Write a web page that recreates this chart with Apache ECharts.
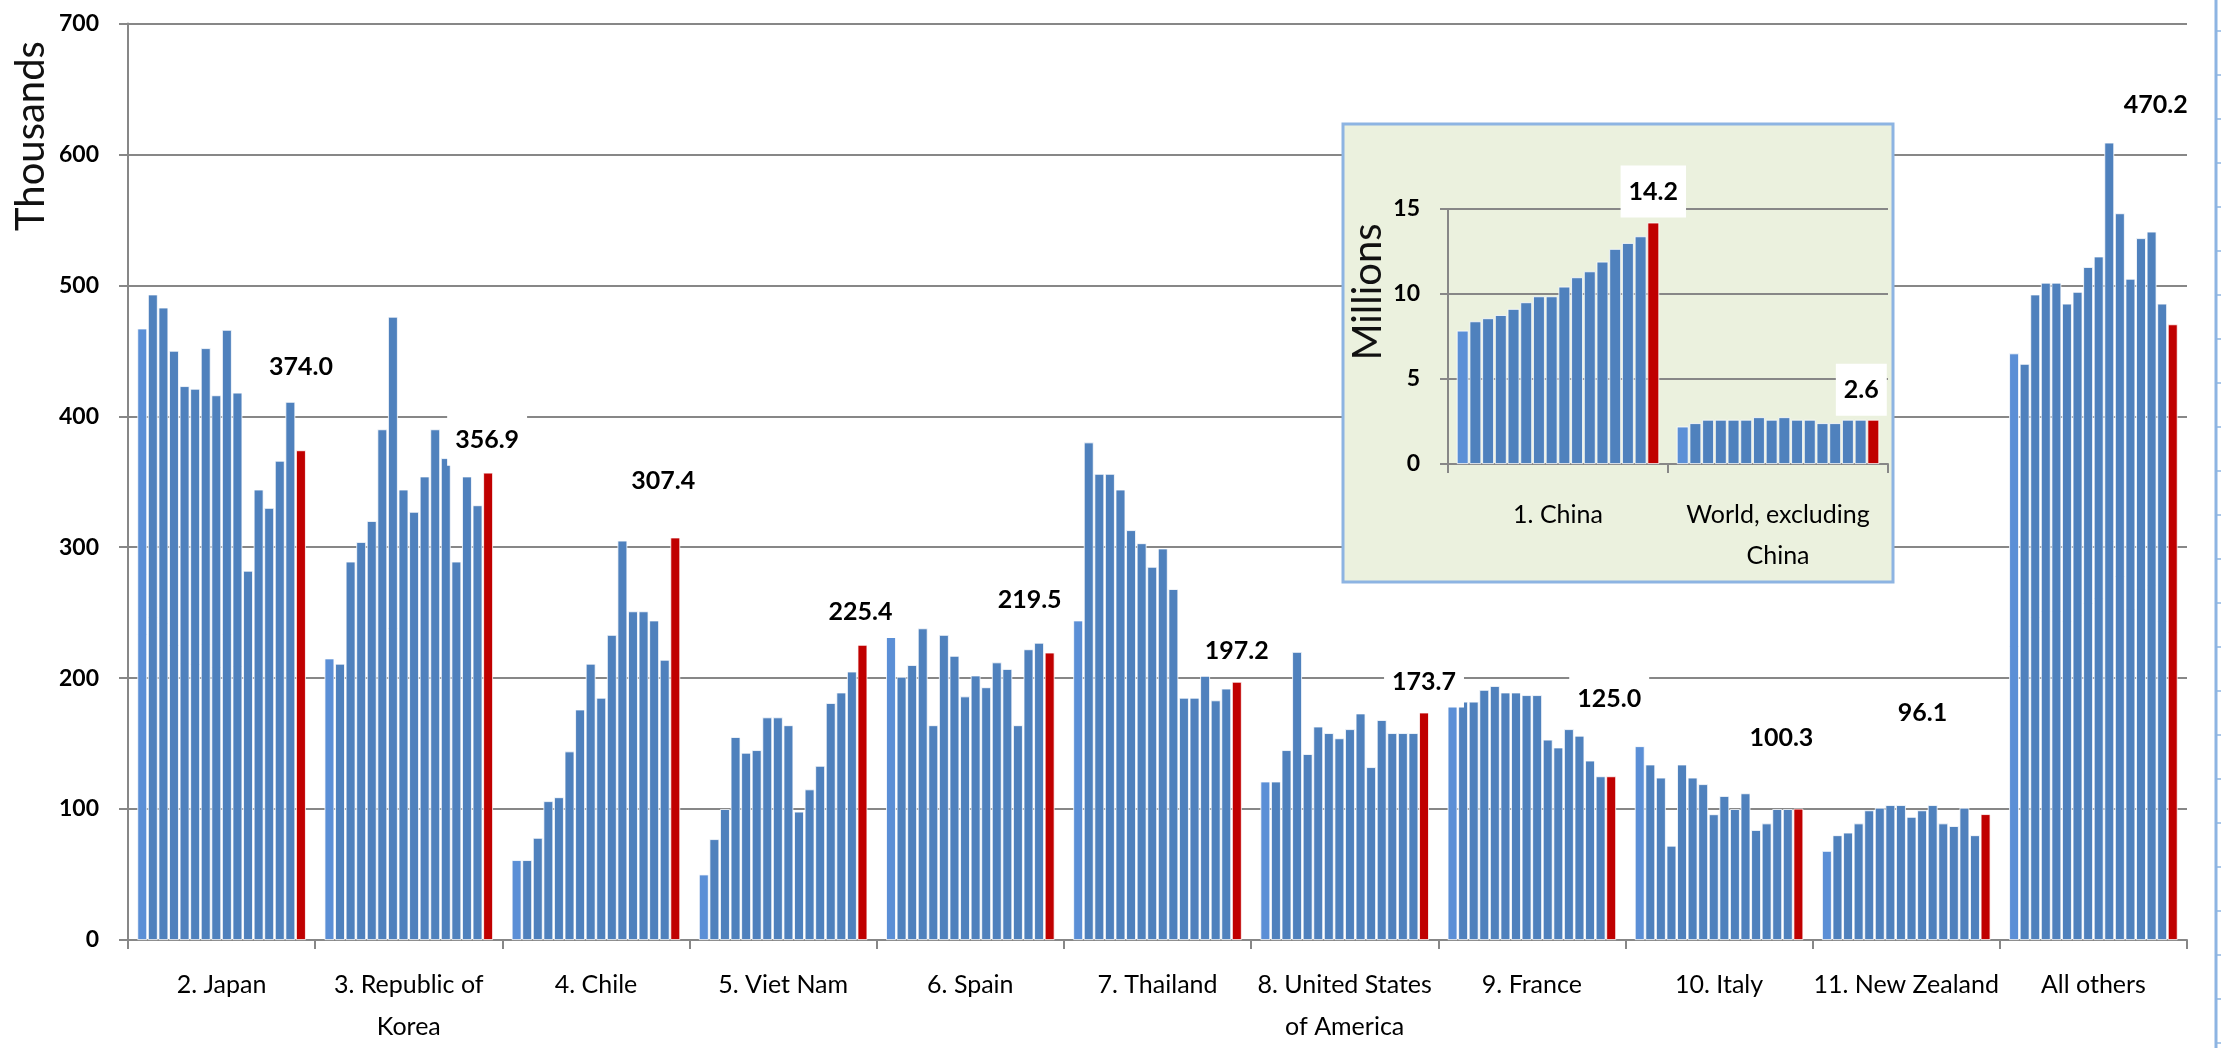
<!DOCTYPE html>
<html><head><meta charset="utf-8">
<script src="https://cdn.jsdelivr.net/npm/echarts@6/dist/echarts.min.js"></script>
<style>html,body{margin:0;padding:0;background:#fff}#c{width:2221px;height:1048px}</style>
</head><body><div id="c"></div><script>
// ---- data (thousands) ----
const categories = ['2. Japan', '3. Republic of\nKorea', '4. Chile', '5. Viet Nam', '6. Spain', '7. Thailand',
  '8. United States\nof America', '9. France', '10. Italy', '11. New Zealand', 'All others'];
const japan      = [467, 493, 483, 450, 423, 421, 452, 416, 466, 418, 282, 344, 330, 366, 411, 374.0];
const korea      = [215, 211, 289, 304, 320, 390, 476, 344, 327, 354, 390, 368, 289, 354, 332, 356.9];
const chile      = [61, 61, 78, 106, 109, 144, 176, 211, 185, 233, 305, 251, 251, 244, 214, 307.4];
const vietNam    = [50, 77, 100, 155, 143, 145, 170, 170, 164, 98, 115, 133, 181, 189, 205, 225.4];
const spain      = [233, 201, 210, 238, 164, 233, 217, 186, 202, 193, 212, 207, 164, 222, 227, 219.5];
const thailand   = [244, 380, 356, 356, 344, 313, 303, 285, 299, 268, 185, 185, 204, 183, 192, 197.2];
const usa        = [121, 121, 145, 220, 142, 163, 158, 154, 161, 173, 132, 168, 158, 158, 158, 173.7];
const france     = [182, 182, 182, 191, 194, 189, 189, 187, 187, 153, 147, 161, 156, 137, 125, 125.0];
const italy      = [148, 134, 124, 72, 134, 124, 119, 96, 110, 100, 112, 84, 89, 100, 100, 100.3];
const newZealand = [68, 80, 82, 89, 99, 101, 103, 103, 94, 99, 103, 89, 87, 101, 80, 96.1];
const allOthers  = [448, 440, 493, 502, 502, 486, 495, 514, 522, 609, 555, 505, 536, 541, 486, 470.2];
// ---- inset data (millions) ----
const insetCategories = ['1. China', 'World, excluding\nChina'];
const china        = [7.84, 8.39, 8.57, 8.76, 9.12, 9.51, 9.86, 9.86, 10.43, 10.98, 11.33, 11.9, 12.65, 13.0, 13.39, 14.2];
const worldExChina = [2.2, 2.4, 2.6, 2.6, 2.6, 2.6, 2.75, 2.6, 2.75, 2.6, 2.6, 2.4, 2.4, 2.6, 2.6, 2.6];
// ---- axis ticks ----
const mainTicks = { min: 0, max: 700, interval: 100 };
const insetTicks = { min: 0, max: 15, interval: 5 };

// ---- styling (label offsets relative to top of last bar) ----
const labelOffsets = [[0,-83],[-1,-33],[-12,-57],[-2,-33],[-20,-53],[0,-31],[0,-31],[-2,-77],[-17,-71],[-63,-101],[-17,-219]];
const insetLabelOffsets = [[0,-31],[-12,-30]];

const groups = [japan, korea, chile, vietNam, spain, thailand, usa, france, italy, newZealand, allOthers];
const insetGroups = [china, worldExChina];
const nYears = japan.length;
const FONT = 'Lato, Carlito, sans-serif';
const GRID_C = '#878787';
function colorFor(i) { return i === nYears - 1 ? '#C00000' : (i === 0 ? '#5B8FD6' : '#4F81BD'); }
const labelStyle = {
  show: true, position: ['50%', 0], align: 'center', verticalAlign: 'middle',
  fontFamily: FONT, fontWeight: 'bold', fontSize: 25, color: '#000',
  backgroundColor: '#fff', padding: [13, 8], lineHeight: 26,
  formatter: p => Number(p.value).toFixed(1)
};

const series = [];
for (let i = 0; i < nYears; i++) {
  const last = i === nYears - 1;
  series.push({
    type: 'bar', xAxisIndex: 0, yAxisIndex: 0, z: 2,
    barGap: '8%', barCategoryGap: '10%',
    itemStyle: { color: colorFor(i), borderColor: '#fff', borderWidth: 0.8 },
    data: groups.map((g, k) => last ? { value: g[i], label: Object.assign({}, labelStyle, { offset: labelOffsets[k] }) } : g[i]),
    silent: true
  });
}
for (let i = 0; i < nYears; i++) {
  const last = i === nYears - 1;
  series.push({
    type: 'bar', xAxisIndex: 1, yAxisIndex: 1, z: 22,
    barGap: '8%', barCategoryGap: '8%',
    itemStyle: { color: colorFor(i), borderColor: '#fff', borderWidth: 0.8 },
    data: insetGroups.map((g, k) => last ? { value: g[i], label: Object.assign({}, labelStyle, { offset: insetLabelOffsets[k] }) } : g[i]),
    silent: true
  });
}

const sideTicks = [];
for (let y = 31; y < 1048; y += 44) {
  sideTicks.push({ type: 'line', z: 30, shape: { x1: 2217, y1: y, x2: 2221, y2: y }, style: { stroke: '#8DB4E2', lineWidth: 1.5 } });
}

const chart = echarts.init(document.getElementById('c'), null, { renderer: 'canvas' });
chart.setOption({
  animation: false,
  backgroundColor: '#fff',
  grid: [
    { left: 128, right: 34, top: 23.5, bottom: 103 },
    { left: 1448, right: 333, top: 209, bottom: 584, z: 20 }
  ],
  xAxis: [
    { type: 'category', gridIndex: 0, data: categories, boundaryGap: true,
      axisLine: { lineStyle: { color: GRID_C, width: 2 } },
      axisTick: { show: true, interval: 0, length: 9, lineStyle: { color: GRID_C, width: 2 } },
      axisLabel: { interval: 0, margin: 24, fontFamily: FONT, fontSize: 25, lineHeight: 42, color: '#000' } },
    { type: 'category', gridIndex: 1, data: insetCategories, boundaryGap: true, z: 21,
      axisLine: { lineStyle: { color: GRID_C, width: 2 } },
      axisTick: { show: true, interval: 0, length: 9, lineStyle: { color: GRID_C, width: 2 } },
      axisLabel: { interval: 0, margin: 30, fontFamily: FONT, fontSize: 25, lineHeight: 41, color: '#000' } }
  ],
  yAxis: [
    { type: 'value', gridIndex: 0, min: mainTicks.min, max: mainTicks.max, interval: mainTicks.interval,
      axisLine: { show: true, lineStyle: { color: GRID_C, width: 2 } },
      axisTick: { show: true, length: 9, lineStyle: { color: GRID_C, width: 2 } },
      splitLine: { show: true, lineStyle: { color: GRID_C, width: 2 } },
      axisLabel: { margin: 29, fontFamily: FONT, fontWeight: 'bold', fontSize: 23, color: '#000' } },
    { type: 'value', gridIndex: 1, min: insetTicks.min, max: insetTicks.max, interval: insetTicks.interval, z: 21,
      axisLine: { show: true, lineStyle: { color: GRID_C, width: 2 } },
      axisTick: { show: true, length: 8, lineStyle: { color: GRID_C, width: 2 } },
      splitLine: { show: true, lineStyle: { color: GRID_C, width: 2 } },
      axisLabel: { margin: 28, fontFamily: FONT, fontWeight: 'bold', fontSize: 23, color: '#000' } }
  ],
  graphic: {
    elements: [
      { type: 'rect', z: 10, shape: { x: 1343, y: 124, width: 550, height: 458 },
        style: { fill: '#EBF1DE', stroke: '#8DB4E2', lineWidth: 3 } },
      { type: 'text', z: 30, x: 31, y: 136, rotation: Math.PI / 2,
        style: { text: 'Thousands', font: '40px ' + FONT, fill: '#111', textAlign: 'center', textVerticalAlign: 'middle' } },
      { type: 'text', z: 30, x: 1368, y: 292, rotation: Math.PI / 2,
        style: { text: 'Millions', font: '40px ' + FONT, fill: '#111', textAlign: 'center', textVerticalAlign: 'middle' } },
      { type: 'line', z: 30, shape: { x1: 2216, y1: 0, x2: 2216, y2: 1048 }, style: { stroke: '#8DB4E2', lineWidth: 3 } }
    ].concat(sideTicks)
  },
  series: series
});
</script></body></html>
